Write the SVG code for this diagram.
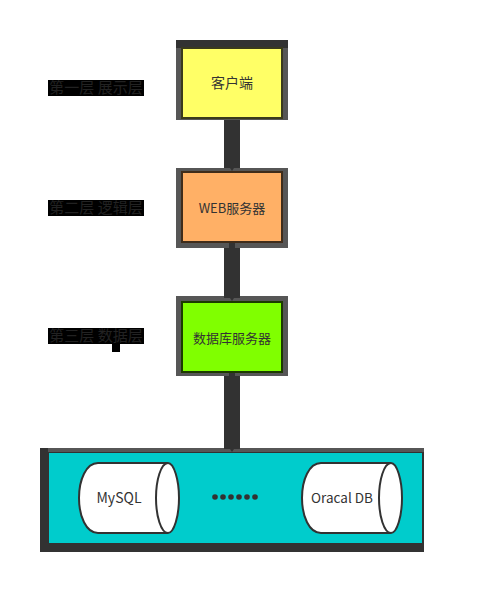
<svg xmlns="http://www.w3.org/2000/svg" width="484" height="606" viewBox="0 0 484 606">
<style>
.o{fill:#565656}
.i{stroke-width:2}
.t{font-family:"Noto Sans CJK SC","Liberation Sans",sans-serif;font-size:13px;fill:#333;text-anchor:middle}
.l{font-family:"Noto Sans CJK SC","Liberation Sans",sans-serif;font-size:15px;fill:#222;text-anchor:middle}
.d{fill:#323232}
.c{fill:#fff;stroke:#323232;stroke-width:2}
</style>
<rect width="484" height="606" fill="#fff"/>
<g id="label1"><rect x="48" y="80" width="96" height="16" fill="#000"/><text class="l" x="96" y="93">第一层 展示层</text></g>
<g id="label2"><rect x="48" y="200" width="96" height="16" fill="#000"/><text class="l" x="96" y="213">第二层 逻辑层</text></g>
<g id="label3"><rect x="48" y="328" width="96" height="16" fill="#000"/><rect x="112" y="344" width="8" height="8" fill="#000"/><text class="l" x="96" y="341">第三层 数据层</text></g>
<g id="client">
<rect class="o" x="176" y="40" width="112" height="80"/>
<rect class="d" x="176" y="40" width="112" height="8"/>
<rect class="i" x="182" y="48" width="100" height="70" fill="#ffff66" stroke="#3a3a1c"/>
<text class="t" x="232" y="88" style="font-size:14px">客户端</text>
</g>
<g id="web">
<rect class="o" x="176" y="168" width="112" height="80"/>
<rect class="i" x="182" y="172" width="100" height="70" fill="#ffb066" stroke="#3f2c1a"/>
<text class="t" x="232" y="213">WEB服务器</text>
</g>
<g id="db">
<rect class="o" x="176" y="296" width="112" height="80"/>
<rect class="i" x="182" y="302" width="100" height="70" fill="#80ff00" stroke="#1c3a00"/>
<text class="t" x="232" y="343">数据库服务器</text>
</g>
<g id="storage">
<rect class="d" x="40" y="448" width="384" height="104"/>
<rect class="o" x="48" y="448" width="376" height="4"/>
<rect x="49" y="453" width="373" height="90" fill="#00cccc"/>
<g id="mysql">
<path class="c" d="M168 463H98C86 463 79 480 79 498S86 533 98 533H168C174 533 179 516 179 498S174 463 168 463Z"/>
<path class="c" fill="none" d="M168 463C161 463 156 480 156 498S161 533 168 533"/>
<text class="t" x="119" y="503" style="font-size:14px">MySQL</text>
</g>
<g id="dots" class="d">
<circle cx="215" cy="497" r="2.8"/><circle cx="223" cy="497" r="2.8"/><circle cx="231" cy="497" r="2.8"/><circle cx="239" cy="497" r="2.8"/><circle cx="247" cy="497" r="2.8"/><circle cx="255" cy="497" r="2.8"/>
</g>
<g id="oracle">
<path class="c" d="M391 463H321C309 463 302 480 302 498S309 533 321 533H391C397 533 402 516 402 498S397 463 391 463Z"/>
<path class="c" fill="none" d="M391 463C384 463 379 480 379 498S384 533 391 533"/>
<text class="t" x="342" y="503" style="font-size:13.5px">Oracal DB</text>
</g>
</g>
<g id="connectors">
<path class="d" d="M224 120H240V168H234L232 171L230 168H224Z"/>
<path class="d" d="M229 243H235V248H240V298H234L232 301L230 298H224V248H229Z"/>
<path class="d" d="M229 373H235V376H240V449H234L232 452L230 449H224V376H229Z"/>
</g>
</svg>
